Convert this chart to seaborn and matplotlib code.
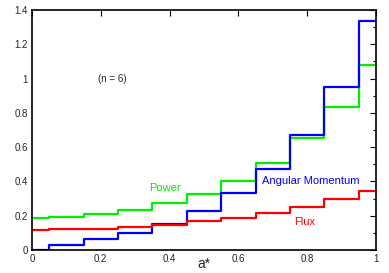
import numpy as np
import pandas as pd
import seaborn as sns
from matplotlib import pyplot as plt
from matplotlib.ticker import MultipleLocator, FuncFormatter

# bin edges in a* and the per-bin values (last value repeated for step end)
edges = [0, 0.05, 0.15, 0.25, 0.35, 0.45, 0.55, 0.65, 0.75, 0.85, 0.95, 1.0]
power = [0.187, 0.192, 0.208, 0.233, 0.272, 0.328, 0.404, 0.509, 0.651, 0.836, 1.077]
angmom = [0.0, 0.029, 0.062, 0.101, 0.152, 0.228, 0.330, 0.474, 0.670, 0.952, 1.337]
flux = [0.119, 0.120, 0.124, 0.134, 0.146, 0.167, 0.187, 0.218, 0.251, 0.296, 0.344]

rows = []
for name, vals in [('Power', power), ('Angular Momentum', angmom), ('Flux', flux)]:
    for x, v in zip(edges, vals + [vals[-1]]):
        rows.append({'a': x, 'val': v, 'series': name})
df = pd.DataFrame(rows)

sns.set_style('white')
plt.rcParams['font.family'] = ['Liberation Sans', 'DejaVu Sans']

fig = plt.figure(figsize=(3.89, 2.73), dpi=100)
ax = fig.add_axes([32 / 389, 1 - 250 / 273, 344 / 389, 240 / 273])

colors = {'Power': '#00ee00', 'Angular Momentum': '#0000ff', 'Flux': '#ff0000'}
sns.lineplot(data=df, x='a', y='val', hue='series', palette=colors,
             drawstyle='steps-post', linewidth=1.6, legend=False, ax=ax,
             sort=False, estimator=None)

ax.set_xlim(0, 1)
ax.set_ylim(0, 1.4)
ax.xaxis.set_major_locator(MultipleLocator(0.2))
ax.yaxis.set_major_locator(MultipleLocator(0.2))
ax.yaxis.set_minor_locator(MultipleLocator(0.1))
fmt = FuncFormatter(lambda v, p: ('%g' % round(v, 2)))
ax.xaxis.set_major_formatter(fmt)
ax.yaxis.set_major_formatter(fmt)
ax.tick_params(which='both', direction='in', top=True, right=True,
               labelsize=7, width=0.8, color='black', pad=3)
ax.tick_params(which='major', length=4)
ax.tick_params(which='minor', length=2.5)
for s in ax.spines.values():
    s.set_color('black')
    s.set_linewidth(1.2)

ax.set_xlabel('a*', fontsize=10)
ax.xaxis.set_label_coords(0.5, -0.03)
ax.set_ylabel('')

ax.text(0.233, 1.0, '(n = 6)', fontsize=7, ha='center', va='center')
ax.text(0.387, 0.363, 'Power', fontsize=8, color='#00ee00', ha='center', va='center')
ax.text(0.81, 0.404, 'Angular Momentum', fontsize=8, color='#0000ff', ha='center', va='center')
ax.text(0.792, 0.163, 'Flux', fontsize=8, color='#ff0000', ha='center', va='center')

fig.savefig('out.png', dpi=100)
